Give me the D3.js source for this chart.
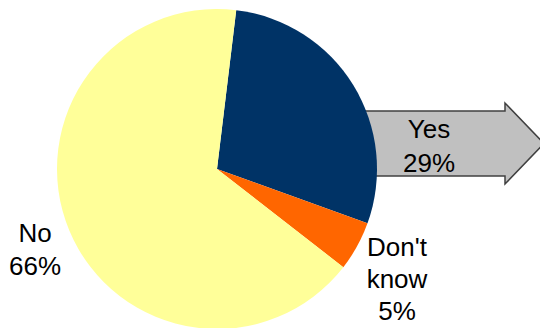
<!DOCTYPE html>
<html><head><meta charset="utf-8">
<script src="https://cdn.jsdelivr.net/npm/d3@7"></script>
<style>body{margin:0;background:#fff}svg{display:block}</style>
</head><body>
<svg id="c" width="540" height="328"></svg>
<script>
const categories = ["Yes", "Don't know", "No"];
const values = [28.6, 5, 66.4];
const colors = ["#003366", "#FF6600", "#FFFF99"];
const labelLines = [["Yes", "29%"], ["Don't", "know", "5%"], ["No", "66%"]];

const svg = d3.select("#c");
const cx = 217, cy = 169, r = 160;
const startAngle = 6.9 * Math.PI / 180;

// arrow behind pie
const arrow = d3.path();
arrow.moveTo(330, 111); arrow.lineTo(505, 111); arrow.lineTo(505, 103);
arrow.lineTo(544, 143.5); arrow.lineTo(505, 184); arrow.lineTo(505, 176);
arrow.lineTo(330, 176); arrow.closePath();
svg.append("path").attr("d", arrow.toString()).attr("fill", "#C0C0C0")
  .attr("stroke", "#404040").attr("stroke-width", 1.5);

const pie = d3.pie().sort(null).value(d => d)
  .startAngle(startAngle).endAngle(startAngle + 2 * Math.PI);
const arc = d3.arc().innerRadius(0).outerRadius(r);
svg.append("g").attr("transform", `translate(${cx},${cy})`)
  .selectAll("path").data(pie(values)).join("path")
  .attr("d", arc).attr("fill", (d, i) => colors[i]);

const labelPos = [[429, 138.3], [397, 255.7], [35, 242.3]];
const lh = [33.4, 32.2, 33];
labelLines.forEach((lines, i) => {
  const t = svg.append("text").attr("text-anchor", "middle")
    .attr("font-family", "Liberation Sans, Arial, sans-serif")
    .attr("font-size", 26).attr("fill", "#000");
  lines.forEach((s, j) => {
    t.append("tspan").attr("x", labelPos[i][0]).attr("y", labelPos[i][1] + j * lh[i]).text(s);
  });
});
</script>
</body></html>
